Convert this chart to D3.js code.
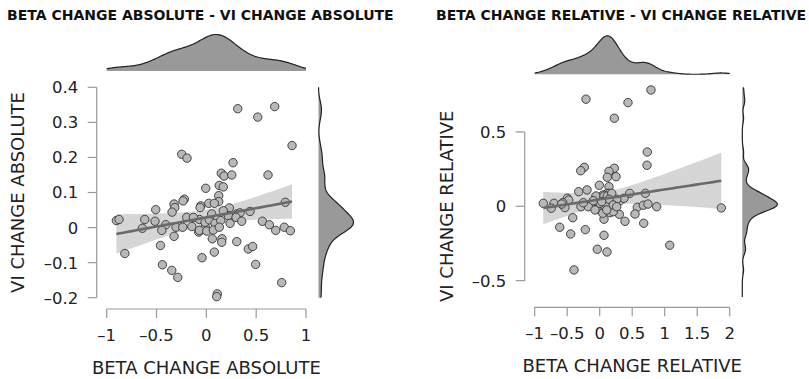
<!DOCTYPE html>
<html lang="en">
<head>
    <meta charset="UTF-8">
    <title>Beta change vs VI change</title>
    <script src="https://d3js.org/d3.v7.min.js"></script>
    <style>
        body { margin: 0; background: #fff; }
        svg { display: block; font-family: "DejaVu Sans", sans-serif; }
        .title { font-size: 14px; font-weight: bold; fill: #111; }
        .tick-label { font-size: 16.5px; fill: #222; }
        .axis-title { font-size: 18px; fill: #222; }
    </style>
</head>
<body>
<div id="chart"></div>
<script>
    // Absolute change, one entry per subject
    const absBeta = [0.315, 0.516, 0.686, 0.86, -0.247, -0.194, 0.268, 0.150, 0.178, 0.255,
        0.619, -0.006, 0.130, 0.17, -0.221, -0.234, -0.324, -0.317, -0.344, 0.124,
        0.124, 0.024, 0.08, -0.056, -0.063, -0.508, 0.231, 0.792, -0.903, -0.876,
        -0.618, -0.642, -0.515, -0.407, -0.447, -0.197, 0.438, 0.305, 0.338, 0.562,
        0.632, 0.696, 0.782, 0.843, -0.324, -0.461, -0.818, -0.076, -0.01, 0.06,
        0.157, 0.154, 0.305, 0.421, 0.465, 0.08, -0.043, -0.441, -0.347, -0.287,
        0.495, 0.756, 0.110, 0.104, -0.07, -0.013, 0.03, 0.087, 0.144, 0.221,
        0.298, 0.355, 0.238, -0.07, 0.004, 0.07, 0.13, -0.304, -0.237, -0.146,
        -0.13, 0.054, 0.17];
    const absVi = [0.339, 0.315, 0.345, 0.234, 0.209, 0.198, 0.185, 0.155, 0.147, 0.150,
        0.150, 0.112, 0.120, 0.116, 0.081, 0.076, 0.067, 0.057, 0.044, 0.091,
        0.074, 0.069, 0.069, 0.062, 0.057, 0.051, 0.056, 0.072, 0.020, 0.023,
        0.023, -0.002, 0.018, 0.008, -0.008, 0.029, 0.046, 0.039, 0.042, 0.018,
        0.008, -0.008, 0.001, -0.009, -0.025, -0.051, -0.074, -0.013, 0.001, -0.032,
        -0.032, -0.042, -0.040, -0.061, -0.054, -0.070, -0.086, -0.106, -0.122, -0.142,
        -0.105, -0.157, -0.189, -0.197, 0.023, 0.015, 0.022, 0.012, 0.020, 0.034,
        0.029, 0.018, 0.012, -0.008, -0.010, -0.007, 0.001, 0.001, 0.001, 0.003,
        0.029, 0.039, 0.048];

    // Relative change
    const relBeta = [-0.211, 0.435, 0.789, 0.225, 0.732, 0.728, -0.237, -0.292, 0.225, 0.143,
        0.251, 0.117, 0.143, -0.006, -0.323, -0.195, 0.117, 0.051, -0.057, 0.462,
        0.702, -0.498, -0.477, -0.868, -0.703, -0.569, -0.534, -0.745, -0.288, -0.138,
        -0.037, 0.077, 0.194, 0.312, 0.374, 0.578, 0.671, 0.743, 0.877, 0.543,
        0.677, 1.871, -0.415, 0.066, 0.158, 0.302, 0.389, -0.615, -0.446, -0.222,
        0.066, -0.037, 0.112, 1.077, -0.395, -0.175, 0.005, 0.117, 0.262, 0.046,
        0.209, -0.585, -0.252, -0.098, 0.148, 0.066, 0.117, 0.185, 0.143, 0.209,
        0.108, 0.031, 0.262, -0.072];
    const relVi = [0.72, 0.697, 0.782, 0.592, 0.365, 0.276, 0.262, 0.239, 0.256, 0.235,
        0.199, 0.195, 0.132, 0.141, 0.098, 0.110, 0.087, 0.076, 0.069, 0.087,
        0.087, 0.054, 0.042, 0.020, 0.020, 0.024, -0.009, -0.013, -0.003, 0.002,
        -0.020, -0.003, 0.020, 0.038, 0.054, -0.007, 0.007, 0.015, -0.003, -0.052,
        -0.114, -0.011, -0.077, -0.087, -0.043, -0.054, -0.101, -0.141, -0.186, -0.157,
        -0.195, -0.289, -0.307, -0.262, -0.428, -0.003, 0.020, 0.020, 0.047, -0.047,
        -0.036, 0.015, 0.024, 0.038, 0.087, 0.069, 0.069, 0.087, 0.047, 0.009,
        -0.025, 0.031, -0.003, -0.025];

    const absXTicks = [-1, -0.5, 0, 0.5, 1];
    const absYTicks = [-0.2, -0.1, 0, 0.1, 0.2, 0.3, 0.4];
    const relXTicks = [-1, -0.5, 0, 0.5, 1, 1.5, 2];
    const relYTicks = [-0.5, 0, 0.5];

    const panels = [
        {
            title: "BETA CHANGE ABSOLUTE - VI CHANGE ABSOLUTE", titleX: 7,
            xLabel: "BETA CHANGE ABSOLUTE", yLabel: "VI CHANGE ABSOLUTE",
            xs: absBeta, ys: absVi, xTicks: absXTicks, yTicks: absYTicks,
            xDomain: [-1, 1], xRange: [106.7, 306],
            yDomain: [-0.2, 0.4], yRange: [297.7, 87.3],
            axisY: 309, axisX: 96.7,
            topBase: 71, topH: 36.5, sideBase: 318.5, sideW: 35,
            xTitleY: 374, yTitleX: 23.5
        },
        {
            title: "BETA CHANGE RELATIVE - VI CHANGE RELATIVE", titleX: 436,
            xLabel: "BETA CHANGE RELATIVE", yLabel: "VI CHANGE RELATIVE",
            xs: relBeta, ys: relVi, xTicks: relXTicks, yTicks: relYTicks,
            xDomain: [-1, 2], xRange: [534.7, 729.7],
            yDomain: [-0.61, 0.8], yRange: [297, 87.3],
            axisY: 307.3, axisX: 524.7,
            topBase: 74.3, topH: 38.5, sideBase: 742.3, sideW: 35,
            xTitleY: 372, yTitleX: 452.5
        }
    ];

    const svg = d3.select("#chart").append("svg")
        .attr("width", 809)
        .attr("height", 379);

    const fmt = d => (d < 0 ? "\u2013" : "") + Math.abs(d);

    // Silverman's rule, same as R's bw.nrd0
    function bandwidth(v) {
        const s = d3.deviation(v);
        const sorted = v.slice().sort(d3.ascending);
        const iqr = d3.quantileSorted(sorted, 0.75) - d3.quantileSorted(sorted, 0.25);
        return 0.9 * Math.min(s, iqr / 1.34) * Math.pow(v.length, -0.2);
    }

    function kde(v, lo, hi) {
        const bw = bandwidth(v);
        const grid = d3.range(0, 201).map(i => lo + (hi - lo) * i / 200);
        return grid.map(g => [g, d3.mean(v, x => Math.exp(-0.5 * ((g - x) / bw) ** 2)) / bw]);
    }

    function fit(xs, ys) {
        const n = xs.length;
        const mx = d3.mean(xs), my = d3.mean(ys);
        const sxx = d3.sum(xs, x => (x - mx) ** 2);
        const sxy = d3.sum(xs, (x, i) => (x - mx) * (ys[i] - my));
        const b = sxy / sxx, a = my - b * mx;
        const s = Math.sqrt(d3.sum(xs, (x, i) => (ys[i] - a - b * x) ** 2) / (n - 2));
        const t = 1.99;
        const lo = d3.min(xs), hi = d3.max(xs);
        return d3.range(0, 51).map(i => {
            const x = lo + (hi - lo) * i / 50;
            const yhat = a + b * x;
            const se = s * Math.sqrt(1 / n + (x - mx) ** 2 / sxx);
            return { x, y: yhat, lo: yhat - t * se, hi: yhat + t * se };
        });
    }

    panels.forEach(p => {
        const g = svg.append("g");
        const x = d3.scaleLinear().domain(p.xDomain).range(p.xRange);
        const y = d3.scaleLinear().domain(p.yDomain).range(p.yRange);

        g.append("text").attr("class", "title")
            .attr("x", p.titleX).attr("y", 19.5)
            .text(p.title);

        // top marginal density
        const topD = kde(p.xs, p.xDomain[0], p.xDomain[1]);
        const topMax = d3.max(topD, d => d[1]);
        const ty = d3.scaleLinear().domain([0, topMax]).range([p.topBase, p.topBase - p.topH]);
        g.append("path")
            .datum(topD)
            .attr("d", d3.area().x(d => x(d[0])).y0(p.topBase).y1(d => ty(d[1])))
            .attr("fill", "#999")
            .attr("stroke", "none");
        g.append("path")
            .datum(topD)
            .attr("d", d3.line().x(d => x(d[0])).y(d => ty(d[1])))
            .attr("fill", "none")
            .attr("stroke", "#222")
            .attr("stroke-width", 1.2);

        // side marginal density
        const sideD = kde(p.ys, p.yDomain[0], p.yDomain[1]);
        const sideMax = d3.max(sideD, d => d[1]);
        const sx = d3.scaleLinear().domain([0, sideMax]).range([p.sideBase, p.sideBase + p.sideW]);
        g.append("path")
            .datum(sideD)
            .attr("d", d3.area().y(d => y(d[0])).x0(p.sideBase).x1(d => sx(d[1])))
            .attr("fill", "#999");
        g.append("path")
            .datum(sideD)
            .attr("d", d3.line().y(d => y(d[0])).x(d => sx(d[1])))
            .attr("fill", "none")
            .attr("stroke", "#222")
            .attr("stroke-width", 1.2);

        // axes
        const yt0 = y(d3.min(p.yTicks)), yt1 = y(d3.max(p.yTicks));
        g.append("line")
            .attr("x1", p.axisX).attr("x2", p.axisX)
            .attr("y1", yt0).attr("y2", yt1)
            .attr("stroke", "#999").attr("stroke-width", 1.2);
        g.selectAll(".ytick").data(p.yTicks).join("line")
            .attr("x1", p.axisX - 9).attr("x2", p.axisX)
            .attr("y1", d => y(d)).attr("y2", d => y(d))
            .attr("stroke", "#999").attr("stroke-width", 1.2);
        g.selectAll(".ylab").data(p.yTicks).join("text")
            .attr("class", "tick-label")
            .attr("x", p.axisX - 18.5)
            .attr("y", d => y(d))
            .attr("dy", "0.36em")
            .attr("text-anchor", "end")
            .text(fmt);

        const xt0 = x(d3.min(p.xTicks)), xt1 = x(d3.max(p.xTicks));
        g.append("line")
            .attr("x1", xt0).attr("x2", xt1)
            .attr("y1", p.axisY).attr("y2", p.axisY)
            .attr("stroke", "#999").attr("stroke-width", 1.2);
        g.selectAll(".xtick").data(p.xTicks).join("line")
            .attr("x1", d => x(d)).attr("x2", d => x(d))
            .attr("y1", p.axisY).attr("y2", p.axisY + 9)
            .attr("stroke", "#999").attr("stroke-width", 1.2);
        g.selectAll(".xlab").data(p.xTicks).join("text")
            .attr("class", "tick-label")
            .attr("x", d => x(d))
            .attr("y", p.axisY + 32)
            .attr("text-anchor", "middle")
            .text(fmt);

        g.append("text").attr("class", "axis-title")
            .attr("x", d3.mean(p.xRange)).attr("y", p.xTitleY)
            .attr("text-anchor", "middle")
            .text(p.xLabel);
        g.append("text").attr("class", "axis-title")
            .attr("transform", `translate(${p.yTitleX},${(yt0 + yt1) / 2}) rotate(-90)`)
            .attr("text-anchor", "middle")
            .text(p.yLabel);

        // regression + confidence band
        const band = fit(p.xs, p.ys);
        g.append("path")
            .datum(band)
            .attr("d", d3.area().x(d => x(d.x)).y0(d => y(d.lo)).y1(d => y(d.hi)))
            .attr("fill", "#d6d6d6");

        const pts = p.xs.map((v, i) => [v, p.ys[i]]);
        g.selectAll(".pt").data(pts).join("circle")
            .attr("cx", d => x(d[0]))
            .attr("cy", d => y(d[1]))
            .attr("r", 4.2)
            .attr("fill", "#b8b8b8")
            .attr("stroke", "#333")
            .attr("stroke-width", 0.9);

        g.append("path")
            .datum(band)
            .attr("d", d3.line().x(d => x(d.x)).y(d => y(d.y)))
            .attr("fill", "none")
            .attr("stroke", "#6a6a6a")
            .attr("stroke-width", 2.6);
    });
</script>
</body>
</html>
